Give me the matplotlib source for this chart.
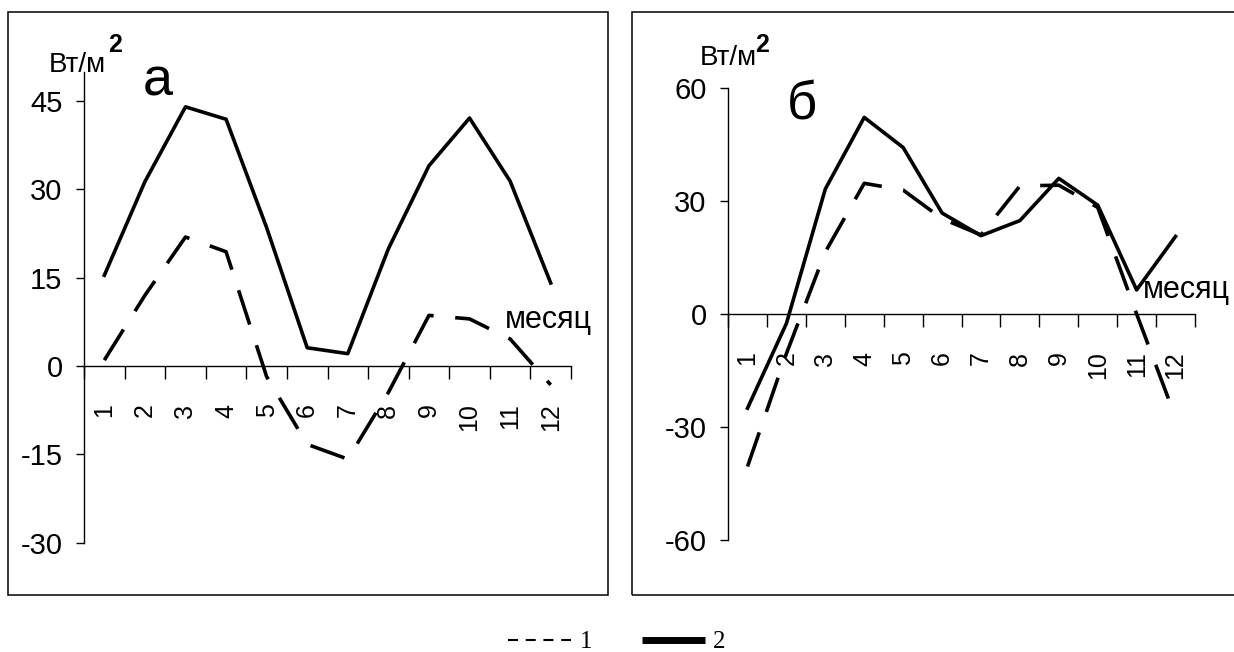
import matplotlib.pyplot as plt
from matplotlib.lines import Line2D
from matplotlib.patches import Rectangle

plt.rcParams['font.family'] = ['Liberation Sans', 'DejaVu Sans']

# months and values (W/m2)
months = list(range(1, 13))
month_labels = [str(m) for m in months]
a_line1 = [1.0, 12.0, 21.9, 19.4, -1.8, -13.3, -15.8, -4.5, 8.6, 8.0, 4.6, -3.2]
a_line2 = [15.4, 31.3, 44.0, 41.9, 23.5, 3.1, 2.1, 19.9, 34.0, 42.1, 31.4, 14.1]
b_line1 = [-40.5, -10.5, 16.5, 34.7, 32.9, 25.3, 21.0, 34.0, 34.2, 28.3, 0.0, -27.5]
b_line2 = [-25.0, -2.5, 33.2, 52.2, 44.2, 26.8, 20.8, 24.8, 36.0, 28.9, 6.4, 20.6]
a_yticks = [-30, -15, 0, 15, 30, 45]
b_yticks = [-60, -30, 0, 30, 60]

fig = plt.figure(figsize=(12.34, 6.52), dpi=100)

# panel frames
fig.patches.append(Rectangle((0.0065, 0.0874), 0.4862, 0.8942, transform=fig.transFigure,
                             fill=False, edgecolor='black', linewidth=1.1))
fig.patches.append(Rectangle((0.5122, 0.0874), 0.55, 0.8942, transform=fig.transFigure,
                             fill=False, edgecolor='black', linewidth=1.1))

ax_a = fig.add_axes([0.0681, 0.1676, 0.3946, 0.7227])
ax_b = fig.add_axes([0.5900, 0.1718, 0.3784, 0.6932])

dash_style = (0, (10, 6))


def style_axis(ax, yticks, ylim):
    ax.set_xlim(0.5, 12.5)
    ax.set_ylim(*ylim)
    ax.spines['top'].set_visible(False)
    ax.spines['right'].set_visible(False)
    ax.spines['bottom'].set_position(('data', 0))
    ax.spines['bottom'].set_linewidth(1.0)
    ax.spines['left'].set_linewidth(1.0)
    ax.set_yticks(yticks)
    ax.set_yticklabels([str(t) for t in yticks])
    ax.set_xticks([m + 0.5 for m in range(0, 13)])
    ax.set_xticklabels([])
    ax.set_xticks(months, minor=True)
    ax.set_xticklabels(month_labels, minor=True, rotation=90, fontsize=18)
    ax.tick_params(axis='x', which='major', direction='out', length=9.5, width=1.0)
    ax.tick_params(axis='x', which='minor', length=0, pad=27)
    ax.tick_params(axis='y', direction='out', length=5.5, width=1.0, labelsize=21, pad=10)
    ax.patch.set_alpha(0)


ax_a.plot(months, a_line1, color='black', lw=2.6, linestyle=dash_style)
ax_a.plot(months, a_line2, color='black', lw=2.6)
style_axis(ax_a, a_yticks, (-30, 50))

ax_b.plot(months, b_line1, color='black', lw=2.6, linestyle=dash_style)
ax_b.plot(months, b_line2, color='black', lw=2.6)
style_axis(ax_b, b_yticks, (-60, 60))

# units, panel letters and x-axis names
fig.text(0.0397, 0.8896, 'Вт/м', fontsize=20)
fig.text(0.0875, 0.921, '2', fontsize=18, fontweight='bold')
fig.text(0.5673, 0.9003, 'Вт/м', fontsize=20)
fig.text(0.6118, 0.921, '2', fontsize=18, fontweight='bold')
fig.text(0.1159, 0.8528, 'а', fontsize=39)
fig.text(0.6378, 0.816, 'б', fontsize=38)
ax_a.text(1.043, 0.4556, 'месяц', transform=ax_a.transAxes, fontsize=22, ha='right',
          clip_on=False)
ax_b.text(1.076, 0.535, 'месяц', transform=ax_b.transAxes, fontsize=22, ha='right',
          clip_on=False)

# legend
handles = [Line2D([], [], color='black', lw=1.5, linestyle=(0, (4.8, 3.7))),
           Line2D([], [], color='black', lw=5, solid_capstyle='butt')]
fig.legend(handles, ['1', '2'], loc='center', bbox_to_anchor=(0.5, 1 - 642 / 652), ncol=2,
           frameon=False, handlelength=2.5, handletextpad=0.35, columnspacing=2.0,
           prop={'family': 'Liberation Serif', 'size': 18})

fig.savefig('out.png', dpi=100)
